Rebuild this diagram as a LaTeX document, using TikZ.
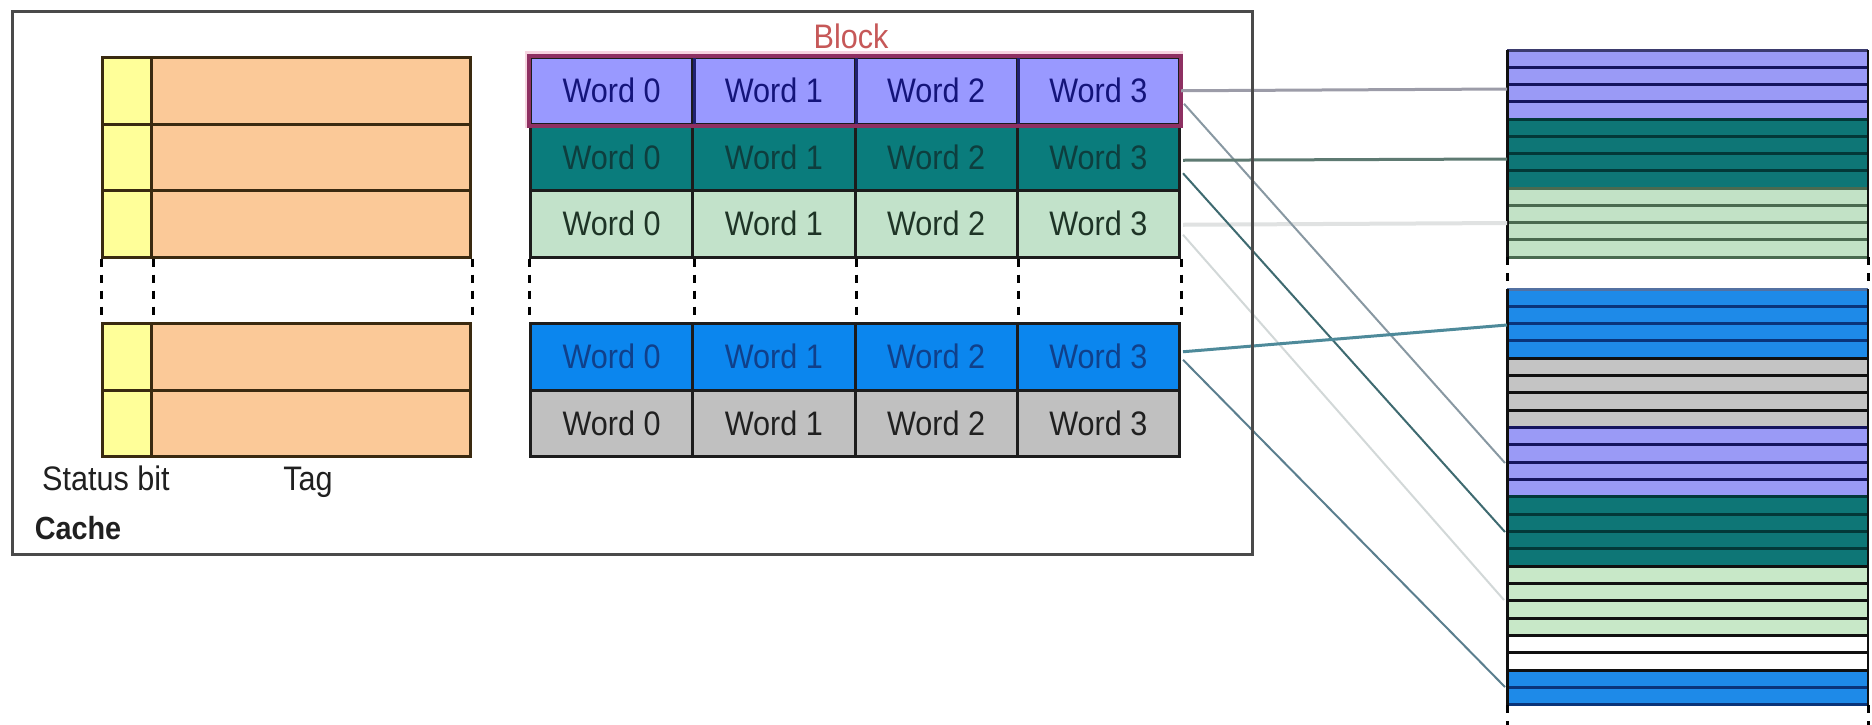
\documentclass[tikz,border=0pt]{standalone}
\usepackage{fontspec}
\setmainfont{Liberation Sans}
\newfontfamily\diagfont[FakeStretch=0.9]{Liberation Sans}
\usetikzlibrary{calc}

% cache row colours
\definecolor{wpurple}{HTML}{9999FF}
\definecolor{wteal}{HTML}{0A7C7C}
\definecolor{wgreen}{HTML}{C2E2CA}
\definecolor{wblue}{HTML}{0B86EE}
\definecolor{wgray}{HTML}{C0C0C0}
\definecolor{tpurple}{HTML}{14147A}
\definecolor{tteal}{HTML}{0E3E3E}
\definecolor{tgreen}{HTML}{1E3426}
\definecolor{tblue}{HTML}{10408A}
\definecolor{tgray}{HTML}{202020}
\definecolor{cellline}{HTML}{1C1C1C}
\definecolor{purpleline}{HTML}{202070}
\definecolor{blockred}{HTML}{8E3062}
\definecolor{blockhalo}{HTML}{F6D4E0}
\definecolor{blocktext}{HTML}{C65858}
\definecolor{statusfill}{HTML}{FFFF99}
\definecolor{tagfill}{HTML}{FBC998}
\definecolor{tagline}{HTML}{3A2A10}
\definecolor{framegray}{HTML}{4A4A4A}
% memory colours
\definecolor{mpurple}{HTML}{9A9AF6}
\definecolor{mteal}{HTML}{0E7676}
\definecolor{mgreen}{HTML}{C2E2C6}
\definecolor{mgreenl}{HTML}{C8E8C8}
\definecolor{mgray}{HTML}{C4C4C4}
\definecolor{mblue}{HTML}{1E8AE8}
\definecolor{snavy}{HTML}{14145E}
\definecolor{steal}{HTML}{033838}
\definecolor{sgreen}{HTML}{4A6A50}
\definecolor{sblack}{HTML}{101010}
\definecolor{sblue}{HTML}{0A347A}
% connector colours
\definecolor{lpurple}{HTML}{9C9CA8}
\definecolor{lpurpled}{HTML}{8898A2}
\definecolor{lteal}{HTML}{5E7A72}
\definecolor{ltealr}{HTML}{3E6A70}
\definecolor{lgreen}{HTML}{E0E2E2}
\definecolor{lgreend}{HTML}{D2D8D8}
\definecolor{lblue}{HTML}{4E8A9A}
\definecolor{lblued}{HTML}{5A7E8E}

\begin{document}
\begin{tikzpicture}[x=1pt,y=-1pt,
  txt/.style={font={\diagfont\fontsize{34}{40}\selectfont}},
  wordcell/.style={txt, anchor=north west, inner sep=0pt, minimum width=162.25pt,
    minimum height=66.5pt, draw=cellline, line width=3pt},
  statuscell/.style={anchor=north west, inner sep=0pt, minimum width=49pt,
    minimum height=66.5pt, draw=tagline, line width=3pt, fill=statusfill},
  tagcell/.style={anchor=north west, inner sep=0pt, minimum width=319pt,
    minimum height=66.5pt, draw=tagline, line width=3pt, fill=tagfill},
  stripe/.style={anchor=north west, inner sep=0pt, minimum width=361pt,
    minimum height=17.3pt, outer sep=0pt},
  gapline/.style={line width=3pt, black, dash pattern=on 8pt off 8pt},
  link/.style={line width=2pt},
]
\useasboundingbox (0,0) rectangle (1872,724);
\fill[white] (0,0) rectangle (1872,724);

% halo behind the highlighted block
\draw[blockhalo, line width=9pt] (529,55) rectangle (1178,123);

% tag store
\foreach \r/\y in {0/56,1/122.5,2/189,3/322,4/388.5} {
  \node[tagcell] (t\r) at (150,\y) {};
  \node[statuscell] (s\r) at (101,\y) {};
}

% data store: five cache lines of four words
\foreach \r/\y/\fc/\tc in {0/56/wpurple/tpurple,1/122.5/wteal/tteal,2/189/wgreen/tgreen,
                           3/322/wblue/tblue,4/388.5/wgray/tgray} {
  \foreach \c in {0,1,2,3} {
    \pgfmathsetmacro{\xx}{529+\c*162.25}
    \node[wordcell, fill=\fc, text=\tc] (w\r\c) at (\xx,\y) {Word \c};
  }
}
\foreach \c in {0,1,2,3} {
  \draw[purpleline, line width=3pt] (w0\c.north east) -- (w0\c.south east);
}
\draw[blockred, line width=4pt] (w00.north west) rectangle (w03.south east);
\node[txt, text=blocktext, anchor=base] (blocklbl) at (851,48) {Block};

% elided rows
\draw[gapline] (s2.south west) -- (s3.north west);
\draw[gapline] (s2.south east) -- (s3.north east);
\draw[gapline] (t2.south east) -- (t3.north east);
\draw[gapline] (w20.south west) -- (w30.north west);
\foreach \c in {0,1,2,3} {
  \draw[gapline] (w2\c.south east) -- (w3\c.north east);
}

% labels
\node[txt, text=tgray, anchor=base] (statuslbl) at (106,490) {Status bit};
\node[txt, text=tgray, anchor=base] (taglbl) at (308,490) {Tag};
\node[txt, text=tgray, anchor=base, font={\diagfont\bfseries\fontsize{32}{40}\selectfont}]
  (cachelbl) at (78,539) {Cache};

% main memory, upper part
\foreach \i/\fc/\sc in {1/mpurple/snavy,2/mpurple/snavy,3/mpurple/snavy,4/mpurple/snavy,
                        5/mteal/steal,6/mteal/steal,7/mteal/steal,8/mteal/steal,
                        9/mgreen/sgreen,10/mgreen/sgreen,11/mgreen/sgreen,12/mgreen/sgreen} {
  \pgfmathsetmacro{\yy}{50+(\i-1)*17.25}
  \node[stripe, fill=\fc] (ma\i) at (1507,\yy) {};
  \draw[\sc, line width=3pt] (ma\i.north west) -- (ma\i.north east);
}
\draw[sgreen, line width=3pt] (ma12.south west) -- (ma12.south east);
\draw[framegray!80!blue, line width=3pt] (ma1.north west) -- (ma1.north east);

% main memory, lower part
\foreach \i/\fc/\sc in {1/mblue/sblue,2/mblue/sblue,3/mblue/sblue,4/mblue/sblue,
                        5/mgray/sblack,6/mgray/sblack,7/mgray/sblack,8/mgray/sblack,
                        9/mpurple/snavy,10/mpurple/snavy,11/mpurple/snavy,12/mpurple/snavy,
                        13/mteal/steal,14/mteal/steal,15/mteal/steal,16/mteal/steal,
                        17/mgreenl/sblack,18/mgreenl/sblack,19/mgreenl/sblack,20/mgreenl/sblack,
                        21/white/sblack,22/white/sblack,23/mblue/sblack,24/mblue/sblue} {
  \pgfmathsetmacro{\yy}{289+(\i-1)*17.33}
  \node[stripe, fill=\fc] (mb\i) at (1507,\yy) {};
  \draw[\sc, line width=3pt] (mb\i.north west) -- (mb\i.north east);
}
\draw[sblue, line width=3pt] (mb24.south west) -- (mb24.south east);
\draw[sblue!70!white, line width=3pt] (mb1.north west) -- (mb1.north east);

\draw[sblack, line width=3pt] (ma1.north west) -- (ma12.south west);
\draw[sblack, line width=3pt] (mb1.north west) -- (mb24.south west);
\draw[sblack, line width=2pt] (ma1.north east) -- (ma12.south east);
\draw[sblack, line width=2pt] (mb1.north east) -- (mb24.south east);
\draw[gapline] (ma12.south west) -- (mb1.north west);
\draw[gapline] (ma12.south east) -- (mb1.north east);
\draw[gapline] (mb24.south west) -- ++(0,22);
\draw[gapline] (mb24.south east) -- ++(0,22);

% where each cache line sits in memory
\coordinate (e1) at (1507,89);
\coordinate (e2) at (1505,463);
\coordinate (e3) at (1507,159);
\coordinate (e4) at (1505,532);
\coordinate (e5) at (1507,223);
\coordinate (e6) at (1504,600);
\coordinate (e7) at (1507,325);
\coordinate (e8) at (1505,687);

\draw[link, lgreen, line width=4pt] ($(w23.east)+(2,1)$) -- (e5);
\draw[link, lgreend] ($(w23.east)+(2,11)$) -- (e6);
\draw[link, lpurple, line width=3pt] (w03.east) -- (e1);
\draw[link, lpurpled] ($(w03.east)+(3,13)$) -- (e2);
\draw[link, lteal, line width=3pt] ($(w13.east)+(2,3)$) -- (e3);
\draw[link, ltealr] ($(w13.east)+(2,16)$) -- (e4);
\draw[link, lblue, line width=3pt] ($(w33.east)+(2,-5)$) -- (e7);
\draw[link, lblued] ($(w33.east)+(2,3)$) -- (e8);

% cache frame
\node[draw=framegray, line width=3pt, anchor=north west, inner sep=0pt,
  minimum width=1240pt, minimum height=543pt] (cache) at (11,10) {};
\end{tikzpicture}
\end{document}
